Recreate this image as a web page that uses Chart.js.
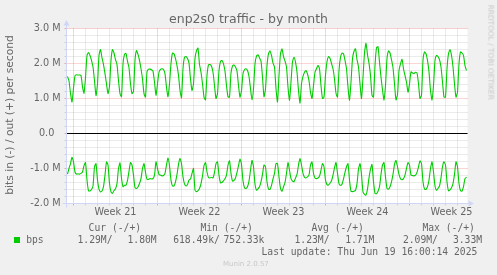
<!DOCTYPE html>
<html>
<head>
<meta charset="utf-8">
<script src="https://cdn.jsdelivr.net/npm/chart.js@4.4.1/dist/chart.umd.min.js"></script>
<style>
  body { margin: 0; background: #f0f0f0; }
  #wrap { position: relative; width: 497px; height: 275px; overflow: hidden; }
  #wrap div { position: absolute; white-space: pre; color: #666; line-height: 1.164; }
  .sans { font-family: "DejaVu Sans"; }
  .mono { font-family: "DejaVu Sans Mono"; font-size: 9.7px; }
  .light { color: #c8c8c8 !important; }
  #ylabel { left: -90px; top: 109px; width: 200px; height: 12px; line-height: 12px !important;
            text-align: center; font-size: 10.7px; transform: rotate(-90deg); }
</style>
</head>
<body>
<div id="wrap">
  <canvas id="chart" width="497" height="275"></canvas>
  <div class="sans" style="left:0;width:497px;text-align:center;top:11.7px;font-size:12.5px">enp2s0 traffic - by month</div>
  <div class="sans" id="ylabel">bits in (-) / out (+) per second</div>
  <div class="sans light" style="left:430px;width:120px;text-align:center;top:48px;font-size:7.4px;transform:rotate(90deg)">RRDTOOL / TOBI OETIKER</div>

  <div class="mono" style="left:88.6px;top:221.7px">Cur (-/+)</div>
  <div class="mono" style="left:200.4px;top:221.7px">Min (-/+)</div>
  <div class="mono" style="left:311.4px;top:221.7px">Avg (-/+)</div>
  <div class="mono" style="left:422.4px;top:221.7px">Max (-/+)</div>

  <div style="left:14px;top:237px;width:6px;height:6px;background:#00cc00"></div>
  <div class="mono" style="left:26.2px;top:233.7px">bps</div>
  <div class="mono" style="left:77.5px;top:233.7px">1.29M/</div>
  <div class="mono" style="left:127.5px;top:233.7px">1.80M</div>
  <div class="mono" style="left:173.2px;top:233.7px">618.49k/</div>
  <div class="mono" style="left:223.5px;top:233.7px">752.33k</div>
  <div class="mono" style="left:294.5px;top:233.7px">1.23M/</div>
  <div class="mono" style="left:345.2px;top:233.7px">1.71M</div>
  <div class="mono" style="left:402.9px;top:233.7px">2.09M/</div>
  <div class="mono" style="left:452.9px;top:233.7px">3.33M</div>

  <div class="mono" style="left:261.5px;top:246px">Last update: Thu Jun 19 16:00:14 2025</div>
  <div class="sans light" style="left:223px;top:260px;font-size:7px">Munin 2.0.57</div>
</div>
<script>
// samples every 3 hours, first one 12 h before Monday of week 21 (values in Mbit/s)
const sampleStart = -12;
const sampleStep = 3;

const outWk20 = [1.63, 1.5, 1.15, 0.9];
const outWk21 = [
  1.3, 1.65, 1.68, 1.67, 1.67, 1.66, 1.34, 1.15,
  1.6, 2.23, 2.31, 2.23, 2.09, 1.9, 1.51, 1.08,
  1.42, 2.23, 2.4, 2.16, 1.97, 1.71, 1.42, 1.14,
  1.35, 2.09, 2.4, 2.3, 2.11, 1.97, 1.51, 1.14,
  1.05, 1.99, 2.26, 2.29, 2.06, 1.88, 1.42, 1.14,
  1.2, 2.09, 2.37, 2.26, 2.09, 1.85, 1.56, 1.14,
  1.04, 1.76, 1.84, 1.84, 1.82, 1.78, 1.47, 1.09
];
const outWk22 = [
  1.42, 1.75, 1.83, 1.85, 1.83, 1.71, 1.32, 1.05,
  1.42, 2.0, 2.3, 2.28, 2.14, 1.94, 1.66, 1.23,
  1.02, 1.85, 2.18, 2.2, 2.14, 2.01, 1.56, 1.23,
  1.42, 2.14, 2.37, 2.44, 1.97, 1.75, 1.42, 1.04,
  0.96, 1.66, 1.96, 1.97, 1.92, 1.75, 1.37, 1.0,
  1.14, 1.8, 2.06, 2.09, 1.99, 1.78, 1.37, 1.05,
  1.04, 1.73, 1.93, 1.96, 1.9, 1.78, 1.37, 1.04
];
const outWk23 = [
  1.23, 1.71, 1.82, 1.85, 1.8, 1.63, 1.28, 0.96,
  1.28, 1.99, 2.21, 2.25, 2.16, 2.07, 1.61, 1.05,
  1.28, 1.94, 2.28, 2.36, 2.23, 2.01, 1.9, 1.28,
  0.9, 1.66, 2.28, 2.42, 2.2, 2.07, 1.9, 1.32,
  0.95, 1.47, 2.05, 2.18, 2.04, 1.75, 1.23, 0.87,
  1.42, 1.63, 1.75, 1.8, 1.7, 1.51, 1.18, 1.0,
  1.37, 1.75, 1.85, 1.95, 1.85, 1.37, 1.0, 1.04
];
const outWk24 = [
  1.66, 2.05, 2.2, 2.15, 2.0, 1.85, 1.56, 1.15,
  1.04, 1.8, 2.18, 2.3, 2.28, 2.09, 1.85, 1.32,
  0.95, 1.47, 2.14, 2.35, 2.42, 2.11, 1.9, 1.42,
  1.0, 1.6, 2.3, 2.58, 2.25, 2.01, 1.66, 1.09,
  1.04, 1.94, 2.45, 2.48, 2.04, 1.61, 1.25, 0.96,
  1.37, 2.14, 2.36, 2.3, 2.11, 1.88, 1.42, 0.96,
  1.11, 1.8, 1.99, 2.12, 1.85, 1.66, 1.47, 1.18
];
const outWk25 = [
  1.42, 1.76, 1.73, 1.71, 1.75, 1.73, 1.42, 1.0,
  1.09, 2.09, 2.33, 2.28, 2.09, 1.76, 1.23, 0.96,
  1.37, 2.09, 2.23, 2.2, 2.11, 1.9, 1.47, 1.04,
  1.04, 1.85, 2.28, 2.39, 2.23, 1.9, 1.42, 1.04,
  1.18, 1.99, 2.33, 2.3, 2.23, 1.94, 1.8
];

const inWk20 = [-1.16, -1.0, -0.86, -0.68];
const inWk21 = [
  -0.81, -1.1, -1.16, -1.15, -1.16, -1.14, -1.1, -0.92,
  -0.83, -1.33, -1.64, -1.64, -1.6, -1.5, -0.95, -0.86,
  -1.33, -1.59, -1.67, -1.64, -1.52, -1.19, -0.81, -0.9,
  -1.43, -1.67, -1.71, -1.63, -1.58, -1.43, -1.0, -0.84,
  -1.27, -1.52, -1.48, -1.48, -1.34, -1.08, -0.83, -0.9,
  -1.19, -1.55, -1.57, -1.53, -1.43, -1.29, -1.0, -0.86,
  -1.11, -1.31, -1.31, -1.29, -1.3, -1.29, -1.19, -0.81
];
const inWk22 = [
  -1.0, -1.17, -1.19, -1.21, -1.2, -1.14, -0.9, -0.7,
  -0.92, -1.33, -1.5, -1.5, -1.38, -1.17, -0.88, -0.71,
  -0.86, -1.24, -1.44, -1.5, -1.46, -1.33, -1.3, -1.14,
  -1.0, -1.62, -1.66, -1.63, -1.57, -1.43, -1.21, -0.92,
  -0.83, -1.1, -1.26, -1.27, -1.25, -1.27, -1.11, -0.86,
  -0.81, -1.19, -1.41, -1.4, -1.35, -1.29, -1.19, -0.9,
  -0.78, -1.14, -1.36, -1.34, -1.27, -1.11, -0.92, -0.73
];
const inWk23 = [
  -0.88, -1.35, -1.55, -1.57, -1.52, -1.36, -1.05, -0.77,
  -0.95, -1.45, -1.62, -1.58, -1.52, -1.38, -1.17, -0.9,
  -0.95, -1.38, -1.59, -1.6, -1.48, -1.3, -1.14, -0.86,
  -0.86, -1.24, -1.57, -1.65, -1.52, -1.4, -1.14, -0.83,
  -1.05, -1.29, -1.36, -1.38, -1.27, -1.17, -0.9, -0.71,
  -0.9, -1.14, -1.25, -1.27, -1.24, -1.19, -0.9, -0.81,
  -1.14, -1.27, -1.29, -1.27, -1.22, -1.05, -0.86, -0.95
];
const inWk24 = [
  -1.33, -1.46, -1.47, -1.42, -1.35, -1.19, -0.98, -0.83,
  -1.14, -1.43, -1.48, -1.45, -1.3, -1.11, -0.95, -0.86,
  -1.33, -1.65, -1.66, -1.65, -1.62, -1.43, -1.02, -0.86,
  -1.17, -1.67, -1.74, -1.76, -1.59, -1.27, -1.02, -0.88,
  -1.38, -1.71, -1.72, -1.65, -1.52, -1.17, -0.9, -0.83,
  -1.24, -1.57, -1.59, -1.52, -1.38, -1.17, -0.88, -0.77,
  -0.95, -1.17, -1.29, -1.32, -1.29, -1.19, -1.0, -0.83
];
const inWk25 = [
  -0.9, -1.19, -1.2, -1.21, -1.19, -1.11, -0.95, -0.78,
  -0.86, -1.38, -1.59, -1.6, -1.52, -1.33, -1.0, -0.81,
  -1.1, -1.5, -1.62, -1.57, -1.5, -1.27, -0.95, -0.81,
  -0.9, -1.38, -1.64, -1.61, -1.55, -1.43, -1.17, -0.81,
  -0.95, -1.43, -1.63, -1.65, -1.52, -1.29, -1.25
];

const weekLabels = ['Week 21', 'Week 22', 'Week 23', 'Week 24', 'Week 25'];
const weekCenters = [84, 252, 420, 588, 756];   // hours, middle of each week
const yTicks = [-2, -1, 0, 1, 2, 3];
const yTickLabels = ['-2.0 M', '-1.0 M', '0.0  ', '1.0 M', '2.0 M', '3.0 M'];

const outBps = [].concat(outWk20, outWk21, outWk22, outWk23, outWk24, outWk25);
const inBps = [].concat(inWk20, inWk21, inWk22, inWk23, inWk24, inWk25);

function toPoints(arr) {
  return arr.map((v, i) => ({ x: sampleStart + i * sampleStep, y: v }));
}

const GRID = 'rgba(186,186,186,0.6)';
const MGRID = 'rgba(240,112,112,0.6)';
const AXIS = '#cfd6f8';

// rrdtool-like canvas, grid, zero rule and axis arrows
const rrdPlugin = {
  id: 'rrd',
  beforeDatasetsDraw(chart) {
    const { ctx, chartArea: a, scales: { x, y } } = chart;
    const px = v => Math.floor(x.getPixelForValue(v)) + 0.5;
    const py = v => Math.floor(y.getPixelForValue(v)) + 0.5;
    const seg = (x1, y1, x2, y2) => { ctx.beginPath(); ctx.moveTo(x1, y1); ctx.lineTo(x2, y2); ctx.stroke(); };

    ctx.save();
    ctx.fillStyle = '#ffffff';
    ctx.fillRect(a.left, a.top, a.right - a.left, a.bottom - a.top);
    ctx.lineWidth = 1;

    for (let k = -10; k <= 15; k++) {
      const yy = py(k / 5);
      ctx.strokeStyle = k % 5 === 0 ? MGRID : GRID;
      ctx.setLineDash([1, 1]);
      seg(a.left, yy, a.right, yy);
      ctx.setLineDash([]);
      seg(a.left - 2, yy, a.left, yy);
    }
    for (let d = 0; d * 24 <= x.max; d++) {
      const xx = px(d * 24);
      ctx.strokeStyle = d % 7 === 0 ? MGRID : GRID;
      ctx.setLineDash([1, 1]);
      seg(xx, a.top, xx, a.bottom);
      ctx.setLineDash([]);
      seg(xx, a.bottom, xx, a.bottom + 2);
    }

    ctx.strokeStyle = '#000000';
    seg(a.left, py(0), a.right, py(0));

    const bx = Math.floor(a.left) + 0.5, by = Math.floor(a.bottom) + 0.5;
    ctx.strokeStyle = AXIS;
    ctx.fillStyle = AXIS;
    seg(a.left - 4, by, a.right + 2, by);
    seg(bx, a.bottom + 4, bx, a.top - 4);
    ctx.beginPath();
    ctx.moveTo(a.right + 1, by - 3); ctx.lineTo(a.right + 6.5, by); ctx.lineTo(a.right + 1, by + 3);
    ctx.closePath(); ctx.fill();
    ctx.beginPath();
    ctx.moveTo(bx - 3, a.top - 3); ctx.lineTo(bx, a.top - 8.5); ctx.lineTo(bx + 3, a.top - 3);
    ctx.closePath(); ctx.fill();
    ctx.restore();
  }
};

const tickFont = { family: 'DejaVu Sans', size: 9.7 };

new Chart(document.getElementById('chart'), {
  type: 'line',
  data: {
    datasets: [
      { label: 'out', data: toPoints(outBps), borderColor: '#00cc00', borderWidth: 1.1, pointRadius: 0, tension: 0.2, fill: false },
      { label: 'in', data: toPoints(inBps), borderColor: '#00cc00', borderWidth: 1.1, pointRadius: 0, tension: 0.2, fill: false }
    ]
  },
  options: {
    responsive: false,
    animation: false,
    devicePixelRatio: 1,
    layout: { padding: { left: 0, right: 29.5, top: 28.5, bottom: 0 } },
    plugins: { legend: { display: false }, tooltip: { enabled: false }, title: { display: false } },
    scales: {
      x: {
        type: 'linear', min: -14, max: 788,
        grid: { display: false, drawTicks: false },
        border: { display: false },
        afterBuildTicks: s => { s.ticks = weekCenters.map(v => ({ value: v })); },
        afterFit: s => { s.height = 71.5; },
        ticks: { autoSkip: false, maxRotation: 0, padding: 3, color: '#666', font: tickFont,
                 callback: (v, i) => weekLabels[i] }
      },
      y: {
        min: -2, max: 3,
        grid: { display: false, drawTicks: false },
        border: { display: false },
        afterBuildTicks: s => { s.ticks = yTicks.map(v => ({ value: v })); },
        afterFit: s => { s.width = 66.5; },
        ticks: { padding: 6, color: '#666', font: tickFont,
                 callback: (v, i) => yTickLabels[i] }
      }
    }
  },
  plugins: [rrdPlugin]
});
</script>
</body>
</html>
